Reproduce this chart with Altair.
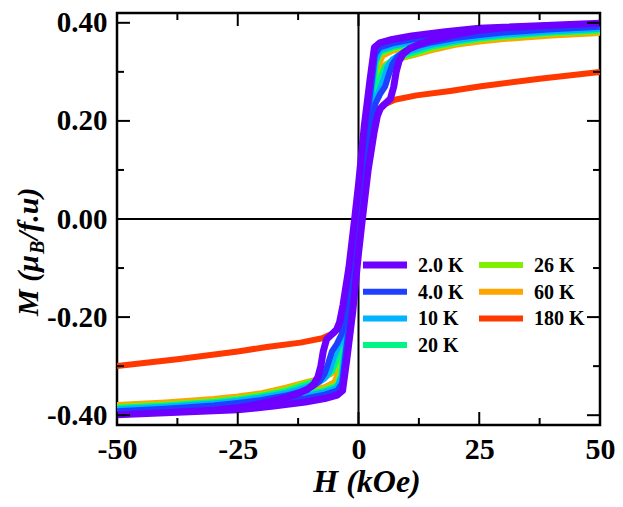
import altair as alt
import pandas as pd

# ---------------- data ----------------
temps = ["2.0 K", "4.0 K", "10 K", "20 K", "26 K", "60 K", "180 K"]
colors = ["#6e00ff", "#1f40ff", "#00b4ff", "#00f585", "#80f000", "#ffa500", "#ff3800"]
widths = [7, 6, 6, 6, 6, 6, 6]

# upper (descending) branch, from +50 kOe down to the zero crossing
up_H_2 = [50, 40, 30, 25, 18, 11, 7, 4.4, 3.3, 2.4, 1.2, 0, -0.8]
up_M_2 = [0.399, 0.395, 0.391, 0.389, 0.382, 0.373, 0.366, 0.359, 0.350, 0.285, 0.19, 0.07, 0.0]
# rising (step) branch, from the zero crossing up to +50 kOe
st_H_2 = [0.8, 2, 3.2, 3.9, 4.5, 5.5, 6.6, 7.3, 7.8, 8.4, 9.2, 10.5, 12.5, 15, 20, 25, 30, 40, 50]
st_M_2 = [0.0, 0.10, 0.175, 0.21, 0.225, 0.235, 0.245, 0.27, 0.30, 0.322, 0.336, 0.347, 0.356, 0.364,
          0.376, 0.385, 0.390, 0.395, 0.399]

up_H_4 = [50, 40, 30, 25, 18, 11, 7, 4.4, 3.4, 2.6, 1.4, 0, -0.6]
up_M_4 = [0.394, 0.389, 0.384, 0.381, 0.375, 0.366, 0.358, 0.350, 0.335, 0.27, 0.17, 0.05, 0.0]
st_H_4 = [0.6, 1.8, 2.8, 3.5, 4.5, 5.5, 6.3, 7.0, 8, 9.5, 12, 15, 20, 25, 30, 40, 50]
st_M_4 = [0.0, 0.11, 0.19, 0.235, 0.255, 0.27, 0.295, 0.315, 0.33, 0.342, 0.352, 0.360, 0.369, 0.375,
          0.380, 0.387, 0.392]

up_H_10 = [50, 40, 30, 25, 18, 11, 7, 4.4, 3.4, 2.8, 2.0, 1.0, 0, -0.3]
up_M_10 = [0.390, 0.386, 0.379, 0.376, 0.370, 0.361, 0.353, 0.344, 0.32, 0.27, 0.18, 0.08, 0.02, 0.0]
st_H_10 = [0.3, 1.7, 2.7, 3.4, 4.3, 5.2, 6.0, 7.0, 8.5, 11, 15, 20, 25, 30, 40, 50]
st_M_10 = [0.0, 0.11, 0.19, 0.24, 0.262, 0.285, 0.31, 0.325, 0.335, 0.343, 0.355, 0.364, 0.371, 0.376,
           0.383, 0.388]

up_H_20 = [50, 40, 30, 25, 18, 11, 7, 4.4, 3.6, 3.0, 2.2, 1.1, 0, -0.2]
up_M_20 = [0.387, 0.383, 0.376, 0.373, 0.367, 0.358, 0.350, 0.340, 0.32, 0.27, 0.18, 0.08, 0.015, 0.0]
st_H_20 = [0.2, 1.6, 2.6, 3.2, 3.9, 4.6, 5.5, 6.8, 8.5, 11, 15, 20, 25, 30, 40, 50]
st_M_20 = [0.0, 0.10, 0.18, 0.23, 0.265, 0.29, 0.31, 0.322, 0.330, 0.338, 0.351, 0.361, 0.368, 0.373,
           0.380, 0.385]

up_H_26 = [50, 40, 30, 25, 18, 11, 7, 4.4, 3.8, 3.2, 2.4, 1.2, 0, -0.1]
up_M_26 = [0.385, 0.381, 0.374, 0.371, 0.365, 0.356, 0.347, 0.337, 0.315, 0.27, 0.18, 0.08, 0.01, 0.0]
st_H_26 = [0.1, 1.5, 2.6, 3.2, 3.8, 4.4, 5.2, 6.5, 8.5, 11, 15, 20, 25, 30, 40, 50]
st_M_26 = [0.0, 0.09, 0.18, 0.23, 0.27, 0.29, 0.308, 0.32, 0.328, 0.335, 0.348, 0.358, 0.366, 0.371,
           0.378, 0.383]

up_H_60 = [50, 40, 30, 25, 18, 11, 7, 5.0, 4.2, 3.6, 3.0, 2.2, 1.0, 0]
up_M_60 = [0.381, 0.377, 0.370, 0.367, 0.361, 0.352, 0.343, 0.333, 0.315, 0.28, 0.22, 0.14, 0.05, 0.0]
st_H_60 = [0.0, 1.5, 2.6, 3.3, 3.9, 4.6, 5.6, 7.0, 8.5, 11, 15, 20, 25, 30, 40, 50]
st_M_60 = [0.0, 0.08, 0.17, 0.23, 0.275, 0.30, 0.315, 0.322, 0.327, 0.333, 0.344, 0.355, 0.362, 0.367,
           0.374, 0.379]

# 180 K: practically no hysteresis, positive half
r_H_180 = [0, 1, 2, 3, 5, 7.5, 12, 19, 25, 37.5, 50]
r_M_180 = [0.0, 0.09, 0.17, 0.205, 0.232, 0.243, 0.252, 0.261, 0.270, 0.286, 0.300]

x_major = [-50, -25, 0, 25, 50]
x_minor = [-37.5, -12.5, 12.5, 37.5]
y_major = [-0.4, -0.2, 0.0, 0.2, 0.4]
y_minor = [-0.3, -0.1, 0.1, 0.3]

# ---------------- build loops (point-symmetric M(-H) = -M(H)) ----------------
def loop(upH, upM, stH, stM):
    desc = list(zip(upH, upM)) + [(-h, -m) for h, m in zip(stH, stM)]
    asc = [(-h, -m) for h, m in zip(upH, upM)] + list(zip(stH, stM))
    return desc + asc

loops = {
    "2.0 K": loop(up_H_2, up_M_2, st_H_2, st_M_2),
    "4.0 K": loop(up_H_4, up_M_4, st_H_4, st_M_4),
    "10 K": loop(up_H_10, up_M_10, st_H_10, st_M_10),
    "20 K": loop(up_H_20, up_M_20, st_H_20, st_M_20),
    "26 K": loop(up_H_26, up_M_26, st_H_26, st_M_26),
    "60 K": loop(up_H_60, up_M_60, st_H_60, st_M_60),
    "180 K": [(-h, -m) for h, m in zip(reversed(r_H_180), reversed(r_M_180))][:-1]
             + list(zip(r_H_180, r_M_180)),
}

W, H = 483, 412
FONT = "Liberation Serif"

xs = alt.Scale(domain=[-50, 50], nice=False, zero=False)
ys = alt.Scale(domain=[-0.42, 0.42], nice=False, zero=False)

x_axis = alt.Axis(values=x_major, ticks=False, domain=False, grid=False, title=None,
                  labelFont=FONT, labelFontWeight="bold", labelFontSize=30, labelColor="black",
                  labelPadding=9, labelFlush=False,
                  labelExpr="datum.value < 0 ? '-' + format(-datum.value, 'd') : format(datum.value, 'd')")
y_axis = alt.Axis(values=y_major, ticks=False, domain=False, grid=False, title=None,
                  labelFont=FONT, labelFontWeight="bold", labelFontSize=29, labelColor="black",
                  labelPadding=10, labelFlush=False,
                  labelExpr="datum.value < -0.001 ? '-' + format(-datum.value, '.2f') : format(abs(datum.value), '.2f')")

def X(f):
    return alt.X(f, type="quantitative", scale=xs, axis=x_axis)

def Y(f):
    return alt.Y(f, type="quantitative", scale=ys, axis=y_axis)

layers = []

# zero lines
layers.append(alt.Chart(pd.DataFrame({"h": [0]})).mark_rule(color="black", strokeWidth=2).encode(x=X("h")))
layers.append(alt.Chart(pd.DataFrame({"m": [0]})).mark_rule(color="black", strokeWidth=2).encode(y=Y("m")))

# curves: draw 180 K first, 2.0 K last (on top)
for t, c, w in reversed(list(zip(temps, colors, widths))):
    pts = loops[t]
    df = pd.DataFrame({"H": [p[0] for p in pts], "M": [p[1] for p in pts], "i": range(len(pts))})
    layers.append(
        alt.Chart(df).mark_line(color=c, strokeWidth=w, strokeJoin="round", clip=True)
        .encode(x=X("H"), y=Y("M"), order="i:Q")
    )

# inward ticks on all four sides
def xticks(vals, ln):
    d = pd.DataFrame({"v": vals})
    b = alt.Chart(d).mark_rule(color="black", strokeWidth=2).encode(x=X("v"), y=alt.value(H), y2=alt.value(H - ln))
    t = alt.Chart(d).mark_rule(color="black", strokeWidth=2).encode(x=X("v"), y=alt.value(0), y2=alt.value(ln))
    return [b, t]

def yticks(vals, ln):
    d = pd.DataFrame({"v": vals})
    l = alt.Chart(d).mark_rule(color="black", strokeWidth=2).encode(y=Y("v"), x=alt.value(0), x2=alt.value(ln))
    r = alt.Chart(d).mark_rule(color="black", strokeWidth=2).encode(y=Y("v"), x=alt.value(W), x2=alt.value(W - ln))
    return [l, r]

layers += xticks(x_major, 13) + xticks(x_minor, 7) + yticks(y_major, 13) + yticks(y_minor, 7)

# legend (two columns, filled column by column)
for i, (t, c) in enumerate(zip(temps, colors)):
    col, row = i // 4, i % 4
    x0 = 246 + col * 116
    yy = 252 + row * 26.7
    d = pd.DataFrame({"label": [t]})
    layers.append(alt.Chart(d).mark_rule(color=c, strokeWidth=7 if i == 0 else 6)
                  .encode(x=alt.value(x0), x2=alt.value(x0 + 44), y=alt.value(yy)))
    layers.append(alt.Chart(d).mark_text(font=FONT, fontWeight="bold", fontSize=20, align="left",
                                         baseline="middle", color="black")
                  .encode(x=alt.value(x0 + 55), y=alt.value(yy + 1), text="label:N"))

# axis titles
one = pd.DataFrame({"a": [0]})
title_kw = dict(font=FONT, fontWeight="bold", fontStyle="italic", color="black", baseline="alphabetic")
layers.append(alt.Chart(one).mark_text(text="H (kOe)", fontSize=32, align="center", **title_kw)
              .encode(x=alt.value(250), y=alt.value(479)))
layers.append(alt.Chart(one).mark_text(text="M (μ", fontSize=30, angle=270, align="left", **title_kw)
              .encode(x=alt.value(-79), y=alt.value(303)))
layers.append(alt.Chart(one).mark_text(text="B", fontSize=20, angle=270, align="left", **title_kw)
              .encode(x=alt.value(-73), y=alt.value(241)))
layers.append(alt.Chart(one).mark_text(text="/f.u)", fontSize=30, angle=270, align="left", **title_kw)
              .encode(x=alt.value(-79), y=alt.value(227)))

chart = (
    alt.layer(*layers)
    .properties(width=W, height=H, autosize=alt.AutoSizeParams(type="none"),
                padding={"left": 109, "top": 5, "right": 15, "bottom": 74}, background="white")
    .configure_view(stroke="black", strokeWidth=2.5)
)

chart.save("out.html", embed_options={"renderer": "svg", "actions": False})
